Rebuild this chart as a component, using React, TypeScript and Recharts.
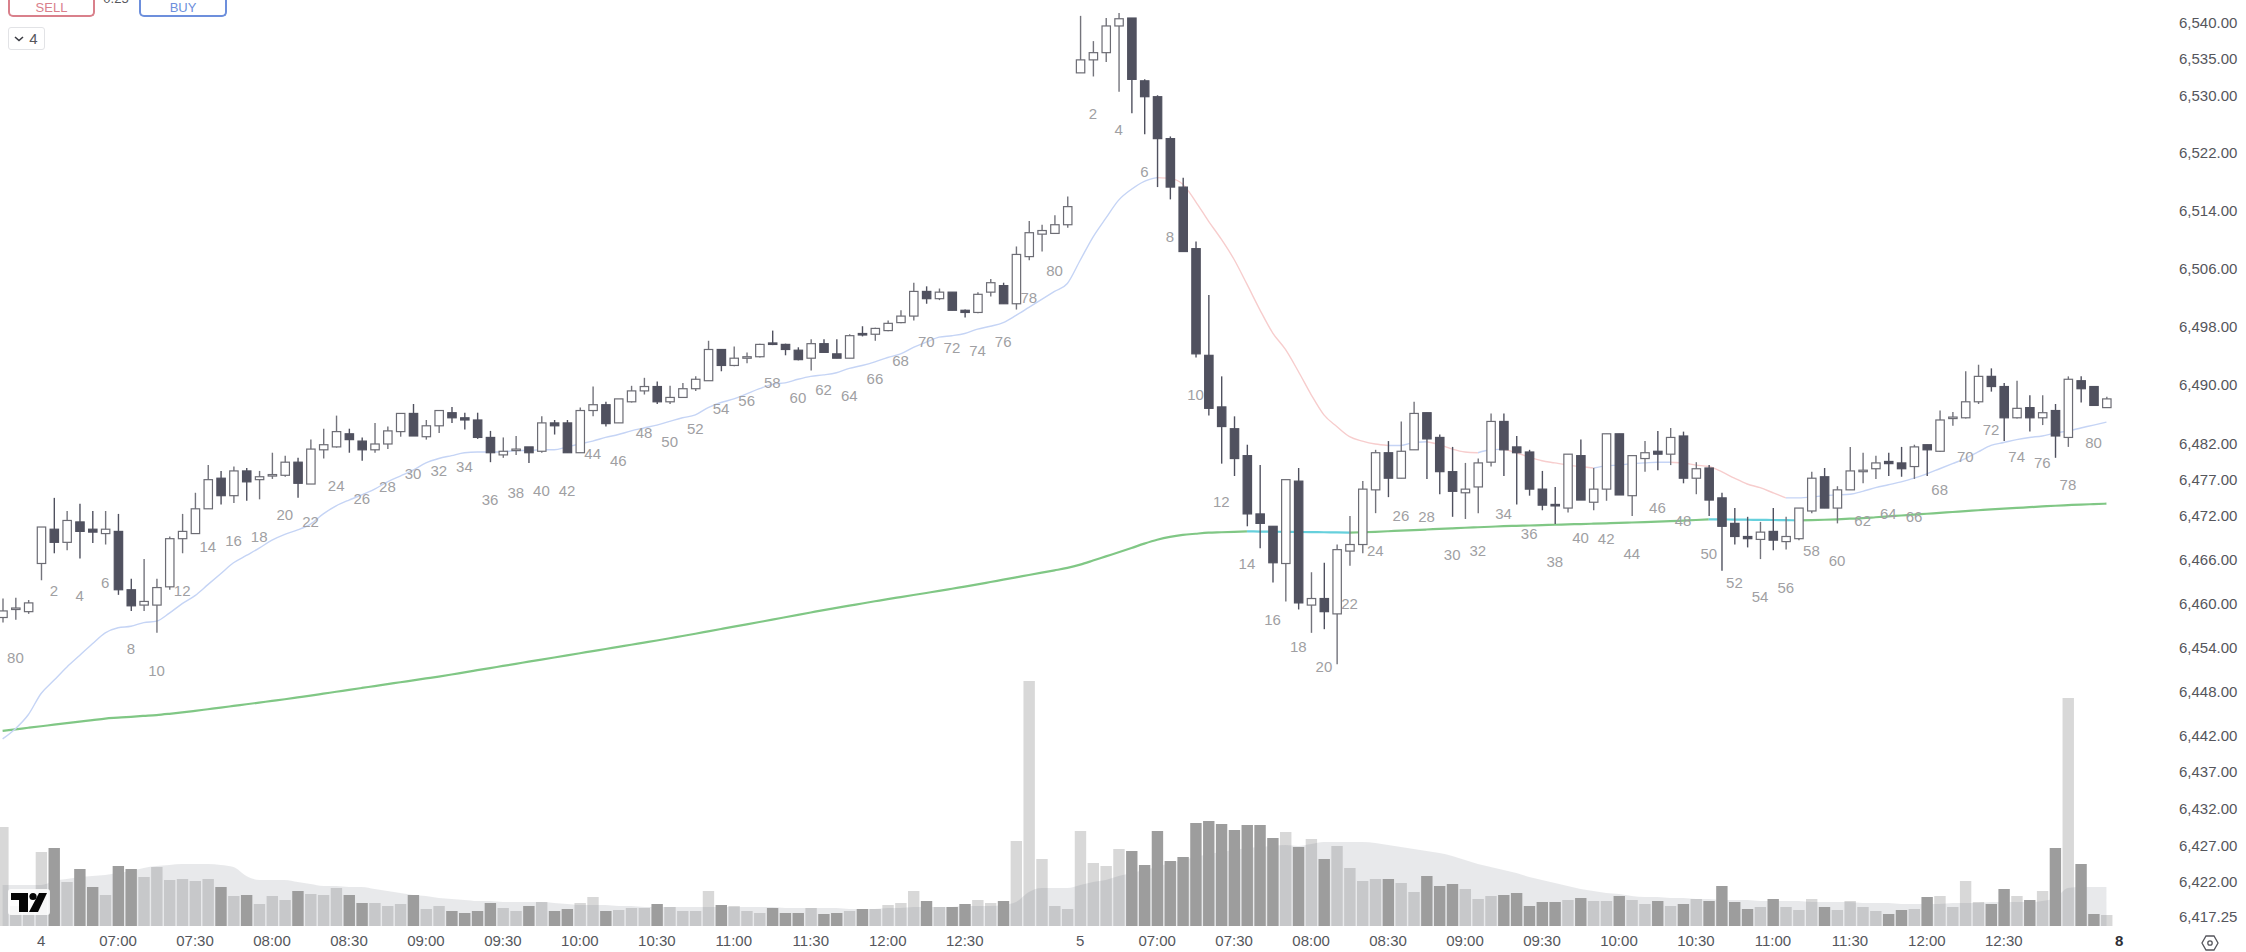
import { Area, Bar, ComposedChart, Line, XAxis, YAxis } from "recharts";

const FONT = '"Liberation Sans", Arial, sans-serif';

const COLORS = {
  candleDark: "#50515f",
  candleWick: "#74747c",
  candleEdge: "#6c6c74",
  volDown: "#9d9d9d",
  volUp: "#d8d8d8",
  volMa: "#787b86",
  emaUp: "#c5d4f5",
  emaDown: "#f7cdcd",
  maUp: "#80c785",
  maDown: "#66d0dc",
  label: "#9f9fa3",
  tick: "#55565c",
};

const opens = [
  6458.1,6459.2,6458.9,6465.5,6470.2,6468.4,6471.2,6470.2,6469.6,6469.9,
  6461.9,6459.8,6459.8,6462.3,6468.9,6469.6,6473.0,6477.2,6474.8,6478.2,
  6477.0,6477.5,6477.6,6479.4,6476.4,6481.1,6481.5,6483.3,6482.3,6481.1,
  6481.9,6483.6,6486.1,6482.9,6484.4,6486.2,6485.5,6485.2,6482.8,6480.4,
  6481.0,6481.5,6480.9,6484.8,6484.8,6480.7,6486.5,6487.3,6484.8,6487.7,
  6489.2,6489.8,6487.7,6488.3,6489.5,6490.6,6494.9,6492.7,6493.7,6493.9,
  6495.8,6495.6,6494.8,6493.7,6495.7,6494.3,6493.7,6497.1,6497.0,6497.5,
  6498.6,6499.5,6502.9,6501.9,6502.8,6500.3,6500.0,6502.8,6503.7,6501.2,
  6507.7,6510.8,6510.9,6512.1,6533.1,6534.9,6535.9,6539.6,6540.7,6532.0,
  6529.8,6524.0,6517.3,6508.8,6494.1,6487.0,6484.0,6480.3,6472.3,6470.6,
  6465.5,6476.8,6459.8,6460.7,6458.6,6467.2,6468.1,6475.6,6480.7,6477.2,
  6481.1,6486.2,6482.8,6478.1,6475.2,6476.0,6479.4,6485.0,6481.5,6480.8,
  6475.7,6473.6,6473.1,6480.3,6473.9,6475.7,6483.3,6474.8,6479.9,6480.9,
  6480.5,6483.0,6477.2,6478.6,6474.5,6471.0,6469.2,6468.8,6469.9,6468.5,
  6468.9,6472.7,6477.4,6473.1,6475.6,6478.1,6478.5,6479.5,6479.3,6478.8,
  6481.8,6480.9,6485.4,6485.5,6487.7,6491.2,6489.8,6485.5,6486.9,6485.5,
  6486.5,6482.8,6490.6,6489.8,6486.9,
];

const highs = [
  6460.7,6460.8,6460.5,6470.5,6474.5,6472.7,6473.7,6472.7,6472.7,6472.3,
  6463.4,6466.1,6463.4,6469.2,6472.3,6475.2,6479.0,6478.2,6478.8,6478.6,
  6478.2,6480.7,6480.3,6480.0,6482.5,6484.0,6485.8,6484.0,6482.8,6484.8,
  6484.3,6486.1,6487.4,6485.2,6486.5,6487.0,6486.2,6486.2,6483.7,6482.8,
  6483.0,6481.5,6485.7,6485.2,6485.2,6486.9,6489.8,6487.7,6488.1,6489.9,
  6491.0,6490.5,6489.9,6490.3,6491.2,6496.1,6494.9,6495.3,6494.5,6495.7,
  6497.5,6495.7,6495.2,6496.3,6496.3,6496.3,6497.0,6498.1,6497.9,6498.9,
  6500.3,6504.1,6503.6,6503.3,6502.8,6500.4,6502.8,6504.6,6504.1,6509.1,
  6512.6,6512.1,6513.4,6516.0,6541.0,6537.5,6540.7,6541.4,6540.7,6532.2,
  6530.0,6524.3,6518.6,6509.8,6502.4,6491.2,6485.7,6481.8,6479.0,6470.6,
  6477.0,6478.6,6464.3,6465.6,6468.1,6472.0,6476.8,6481.1,6482.3,6485.0,
  6487.7,6486.2,6483.2,6481.5,6479.3,6479.9,6486.1,6486.1,6483.0,6481.1,
  6478.2,6476.0,6480.5,6482.5,6478.6,6483.3,6483.3,6480.3,6482.3,6483.7,
  6484.1,6483.6,6479.4,6479.0,6475.2,6473.1,6471.9,6471.2,6473.1,6471.9,
  6473.1,6478.1,6478.6,6476.1,6481.5,6480.7,6480.3,6480.7,6481.5,6481.8,
  6481.8,6486.5,6486.3,6491.9,6492.8,6492.3,6490.3,6490.6,6488.6,6488.6,
  6487.4,6491.2,6491.2,6489.8,6488.4,
];

const lows = [
  6457.4,6457.8,6458.6,6463.2,6466.9,6467.3,6466.2,6468.3,6468.1,6461.2,
  6459.0,6459.0,6456.0,6461.9,6466.9,6469.6,6473.0,6473.6,6473.8,6474.1,
  6474.3,6477.1,6477.4,6474.5,6476.4,6479.9,6481.4,6480.7,6479.6,6480.7,
  6481.2,6482.9,6483.0,6482.5,6483.4,6484.8,6483.9,6482.6,6479.4,6480.0,
  6480.4,6479.3,6480.7,6483.2,6480.7,6480.7,6485.7,6484.3,6484.8,6487.6,
  6488.7,6487.4,6487.4,6488.3,6489.2,6490.6,6491.9,6492.6,6493.0,6493.8,
  6495.5,6494.1,6493.4,6492.0,6494.5,6493.7,6493.7,6496.7,6496.1,6497.4,
  6498.5,6498.9,6501.2,6501.7,6500.3,6499.3,6499.9,6502.2,6501.2,6500.4,
  6507.2,6508.4,6510.9,6511.7,6533.1,6532.6,6534.6,6530.5,6527.5,6524.6,
  6517.3,6515.6,6508.4,6493.8,6485.8,6479.2,6477.5,6470.6,6467.6,6462.9,
  6460.3,6459.2,6456.0,6456.5,6451.7,6465.2,6466.9,6472.4,6474.6,6477.2,
  6481.1,6477.1,6475.0,6471.9,6471.6,6472.4,6478.8,6477.5,6473.6,6474.8,
  6472.8,6470.9,6472.5,6474.2,6472.8,6474.1,6474.9,6472.0,6478.1,6478.3,
  6479.0,6476.5,6475.0,6472.0,6464.5,6468.1,6467.7,6466.1,6467.3,6467.4,
  6468.7,6472.4,6473.1,6471.0,6475.6,6476.5,6477.1,6477.5,6477.4,6477.1,
  6477.5,6480.8,6484.4,6485.4,6487.4,6489.1,6482.3,6485.4,6483.6,6484.5,
  6480.0,6481.5,6487.6,6487.2,6486.9,
];

const closes = [
  6459.0,6459.4,6460.1,6470.5,6468.4,6471.4,6469.9,6469.8,6470.2,6461.9,
  6459.7,6460.3,6462.2,6468.9,6469.9,6473.0,6477.0,6474.8,6478.2,6476.7,
  6477.4,6477.7,6479.4,6476.5,6481.2,6481.8,6483.6,6482.5,6481.1,6481.9,
  6483.7,6486.1,6483.0,6484.4,6486.5,6485.5,6485.2,6482.8,6480.7,6480.9,
  6481.2,6480.7,6484.8,6484.4,6480.7,6486.5,6487.3,6484.7,6488.1,6489.2,
  6489.8,6487.7,6488.3,6489.5,6490.8,6494.9,6492.7,6493.7,6493.9,6495.6,
  6495.6,6494.9,6493.5,6495.7,6494.5,6493.7,6496.8,6496.9,6497.8,6498.5,
  6499.5,6502.9,6501.9,6502.8,6500.3,6500.0,6502.5,6504.1,6501.2,6508.0,
  6511.0,6511.3,6512.1,6514.6,6534.9,6535.9,6539.6,6540.6,6532.2,6529.8,
  6524.0,6517.3,6508.4,6494.3,6486.8,6484.3,6479.9,6472.3,6471.0,6465.6,
  6477.0,6460.1,6460.7,6458.9,6467.4,6468.1,6475.7,6480.7,6477.2,6480.9,
  6486.1,6482.6,6478.1,6475.4,6475.7,6479.3,6485.0,6481.1,6480.7,6475.7,
  6473.5,6473.4,6480.5,6474.2,6475.7,6483.3,6474.9,6480.3,6480.7,6480.5,
  6482.8,6477.2,6478.5,6474.2,6470.6,6469.2,6468.9,6469.8,6468.7,6469.2,
  6473.1,6477.2,6473.1,6475.6,6478.2,6478.3,6479.3,6479.2,6478.5,6481.5,
  6481.1,6485.2,6485.6,6487.7,6491.2,6489.8,6485.5,6486.8,6485.5,6486.2,
  6483.0,6490.8,6489.5,6487.2,6488.1,
];

// relative volume, same scale as the hidden volume axis
const volumes = [
  99,20,14,74,78,44,57,39,31,60,
  57,49,59,46,47,45,47,39,30,31,
  22,30,26,35,32,31,38,31,23,23,
  20,22,31,17,20,15,13,15,23,18,
  15,20,24,15,17,23,29,15,16,18,
  18,22,19,15,15,35,21,20,15,13,
  18,13,13,18,12,13,15,17,17,21,
  23,35,25,19,19,22,26,23,25,85,
  245,67,20,17,95,63,60,77,75,61,
  95,65,69,103,105,102,96,101,101,88,
  94,79,87,67,80,58,45,47,47,43,
  34,50,40,42,37,27,30,31,33,20,
  24,24,26,28,25,25,30,26,22,25,
  20,22,27,25,40,24,17,19,27,19,
  16,27,19,16,25,19,15,12,16,17,
  29,30,19,45,24,22,37,30,26,35,
  78,228,62,12,11,
];

const volumeMa = [
  41,41,41,41,45,47,49,50,51,53,
  55,58,60,61,62,62,62,61,59,50,
  46,46,46,44,42,40,40,39,39,37,
  35,33,31,30,28,27,26,25,25,24,
  24,24,24,23,22,21,21,21,20,20,
  19,19,19,19,19,19,19,19,19,19,
  19,18,18,18,18,18,17,17,17,18,
  18,19,19,19,19,20,20,20,21,24,
  34,38,38,38,41,44,46,50,53,56,
  59,63,66,69,72,74,76,78,79,80,
  81,80,82,84,84,84,84,83,81,79,
  77,75,73,70,66,62,59,56,53,49,
  46,43,40,37,35,33,32,30,29,29,
  28,28,27,27,26,26,26,25,25,25,
  25,24,24,24,24,23,23,23,22,22,
  22,22,23,23,23,24,24,24,24,25,
  28,38,39,39,39,
];

const fastMa = [
  6441.5,6442.9,6444.8,6447.7,6449.5,6451.3,6452.9,6454.5,6456.0,6456.7,
  6456.9,6457.4,6457.6,6458.7,6460.0,6461.1,6462.6,6464.1,6465.6,6466.6,
  6467.6,6468.7,6469.5,6470.1,6470.9,6472.3,6473.4,6474.2,6474.9,6475.7,
  6476.7,6477.5,6478.3,6479.3,6479.9,6480.3,6480.7,6480.8,6480.8,6480.8,
  6481.0,6481.0,6481.1,6481.1,6481.5,6481.9,6482.3,6482.8,6483.2,6483.7,
  6484.1,6484.5,6485.0,6485.5,6485.9,6486.9,6487.6,6488.1,6488.8,6489.5,
  6490.1,6490.3,6490.8,6491.2,6491.4,6491.7,6492.3,6492.7,6493.2,6493.8,
  6494.3,6495.2,6495.9,6496.6,6496.8,6497.1,6497.7,6498.1,6498.6,6499.6,
  6500.7,6501.8,6502.9,6504.0,6507.2,6510.4,6513.0,6515.5,6517.0,6518.1,
  6518.6,6518.5,6517.7,6515.3,6512.6,6510.1,6507.3,6503.9,6500.4,6497.2,
  6494.9,6491.9,6488.7,6485.9,6484.3,6482.9,6482.3,6481.9,6481.7,6481.7,
  6482.1,6482.2,6481.8,6481.2,6480.8,6480.7,6481.1,6481.2,6480.7,6480.1,
  6479.6,6479.3,6479.0,6478.8,6478.6,6478.9,6479.0,6479.2,6479.3,6479.4,
  6479.4,6479.3,6479.0,6478.8,6478.1,6477.2,6476.4,6475.9,6475.2,6474.5,
  6474.5,6474.6,6474.8,6474.9,6475.0,6475.4,6475.9,6476.3,6476.7,6477.2,
  6477.8,6478.5,6479.2,6479.9,6480.8,6481.7,6482.1,6482.5,6482.8,6483.0,
  6483.4,6483.7,6484.1,6484.5,6484.9,
];

const slowMa = [
  6442.60,6442.81,6443.02,6443.23,6443.44,6443.65,6443.86,6444.07,6444.28,6444.40,
  6444.52,6444.64,6444.76,6444.93,6445.12,6445.33,6445.55,6445.77,6446.00,6446.23,
  6446.46,6446.69,6446.92,6447.17,6447.42,6447.68,6447.94,6448.20,6448.46,6448.72,
  6448.98,6449.24,6449.50,6449.76,6450.02,6450.30,6450.60,6450.89,6451.18,6451.47,
  6451.76,6452.05,6452.34,6452.63,6452.92,6453.21,6453.50,6453.79,6454.08,6454.37,
  6454.66,6454.95,6455.26,6455.57,6455.88,6456.20,6456.52,6456.84,6457.16,6457.48,
  6457.80,6458.13,6458.46,6458.79,6459.12,6459.42,6459.72,6460.02,6460.32,6460.62,
  6460.90,6461.18,6461.46,6461.74,6462.04,6462.34,6462.64,6462.96,6463.28,6463.60,
  6463.92,6464.24,6464.56,6464.90,6465.35,6465.90,6466.47,6467.03,6467.62,6468.22,
  6468.75,6469.15,6469.42,6469.58,6469.72,6469.78,6469.84,6469.90,6469.88,6469.86,
  6469.84,6469.82,6469.80,6469.78,6469.76,6469.74,6469.78,6469.84,6469.92,6470.00,
  6470.08,6470.16,6470.24,6470.32,6470.40,6470.47,6470.54,6470.61,6470.66,6470.71,
  6470.76,6470.81,6470.86,6470.91,6470.96,6471.01,6471.06,6471.12,6471.18,6471.24,
  6471.30,6471.38,6471.46,6471.56,6471.54,6471.52,6471.50,6471.48,6471.46,6471.44,
  6471.42,6471.45,6471.50,6471.56,6471.64,6471.72,6471.84,6471.96,6472.08,6472.20,
  6472.32,6472.44,6472.56,6472.68,6472.80,6472.92,6473.02,6473.12,6473.22,6473.32,
  6473.42,6473.50,6473.58,6473.64,6473.70,
];

const priceTicks = [
  6540, 6535, 6530, 6522, 6514, 6506, 6498, 6490, 6482, 6477, 6472,
  6466, 6460, 6454, 6448, 6442, 6437, 6432, 6427, 6422, 6417.25,
];

const timeTickBars = [
  3, 9, 15, 21, 27, 33, 39, 45, 51, 57, 63, 69, 75,
  84, 90, 96, 102, 108, 114, 120, 126, 132, 138, 144, 150, 156, 165,
];
const timeTickLabels = [
  "4", "07:00", "07:30", "08:00", "08:30", "09:00", "09:30", "10:00", "10:30", "11:00", "11:30", "12:00", "12:30",
  "5", "07:00", "07:30", "08:00", "08:30", "09:00", "09:30", "10:00", "10:30", "11:00", "11:30", "12:00", "12:30", "8",
];

const EXTRA_BARS = 5;
const sessionFirstBars = [-78, 3, 84];

function sessionBarNo(i: number) {
  const start = i >= sessionFirstBars[2] ? sessionFirstBars[2] : i >= sessionFirstBars[1] ? sessionFirstBars[1] : sessionFirstBars[0];
  return i - start + 1;
}

// colour of the two averages follows their slope
function slopeSplit(values: number[]) {
  const rising = values.map((v, i) => (i === 0 ? values[1] >= v : v >= values[i - 1]));
  const up = values.map((v, i) => (rising[i] || rising[i + 1] ? v : null));
  const down = values.map((v, i) => (!rising[i] || rising[i + 1] === false ? v : null));
  return { up, down };
}

const fast = slopeSplit(fastMa);
const slow = slopeSplit(slowMa);

const rows = [...opens, ...new Array(EXTRA_BARS).fill(null)].map((_, i) => {
  if (i >= opens.length) return { idx: i };
  const isDown = closes[i] < opens[i];
  return {
    idx: i,
    open: opens[i],
    high: highs[i],
    low: lows[i],
    close: closes[i],
    barNo: sessionBarNo(i),
    volUp: isDown ? 0 : volumes[i],
    volDown: isDown ? volumes[i] : 0,
    volMa: volumeMa[i],
    fastUp: fast.up[i],
    fastDown: fast.down[i],
    slowUp: slow.up[i],
    slowDown: slow.down[i],
  };
});

function Candle(props: any) {
  const { x, y, width, height, payload } = props;
  if (payload.high == null) return null;
  const perPoint = height / (payload.high - payload.low);
  const bodyTop = y + (payload.high - Math.max(payload.open, payload.close)) * perPoint;
  const bodyBottom = y + (payload.high - Math.min(payload.open, payload.close)) * perPoint;
  const isDown = payload.close < payload.open;
  const mid = x + width / 2;
  const bodyH = Math.max(bodyBottom - bodyTop, 1.5);
  return (
    <g>
      <line x1={mid} x2={mid} y1={y} y2={y + height} stroke={isDown ? COLORS.candleDark : COLORS.candleWick} strokeWidth={1.4} />
      <rect
        x={x + 0.6}
        y={bodyTop}
        width={width - 1.2}
        height={bodyH}
        fill={isDown ? COLORS.candleDark : "#ffffff"}
        stroke={isDown ? COLORS.candleDark : COLORS.candleEdge}
        strokeWidth={1.2}
      />
    </g>
  );
}

function BarNoLabel(props: any) {
  const { x, y, index } = props;
  const row: any = rows[index];
  if (!row || row.barNo == null || row.barNo % 2 !== 0 || y == null) return null;
  return (
    <text x={x} y={y + 38} dy={5} textAnchor="middle" fontSize={15} fontFamily={FONT} fill={COLORS.label}>
      {row.barNo}
    </text>
  );
}

function TimeTick(props: any) {
  const { x, y, payload } = props;
  const label = timeTickLabels[timeTickBars.indexOf(payload.value)];
  return (
    <text x={x} y={y + 12} textAnchor="middle" fontSize={15} fontFamily={FONT} fill={label === "8" ? "#2f3036" : COLORS.tick} fontWeight={label === "8" ? 700 : 400}>
      {label}
    </text>
  );
}

function Overlay() {
  const box: any = { position: "absolute", boxSizing: "border-box", fontFamily: FONT, textAlign: "center" };
  return (
    <>
      <div style={{ ...box, left: 8, top: 0, width: 87, height: 17, border: "2px solid #d9808b", borderTop: "none", borderRadius: "0 0 5px 5px", color: "#d9808b", fontSize: 13, lineHeight: "15px", background: "#fff" }}>SELL</div>
      <div style={{ ...box, left: 103, top: -10, width: 26, height: 17, color: "#55565c", fontSize: 13, lineHeight: "17px" }}>0.25</div>
      <div style={{ ...box, left: 139, top: 0, width: 88, height: 17, border: "2px solid #6d8fdc", borderTop: "none", borderRadius: "0 0 5px 5px", color: "#6d8fdc", fontSize: 13, lineHeight: "15px", background: "#fff" }}>BUY</div>
      <div style={{ ...box, left: 8, top: 27, width: 37, height: 23, border: "1px solid #e2e3e6", borderRadius: 3, color: "#55565c", fontSize: 15, lineHeight: "21px", background: "#fff", paddingLeft: 14 }}>4</div>
      <svg style={{ position: "absolute", left: 13, top: 35, width: 12, height: 8 }} viewBox="0 0 12 8">
        <path d="M2 2 L6 5.5 L10 2" fill="none" stroke="#3a3b42" strokeWidth={1.6} />
      </svg>
      <svg style={{ position: "absolute", left: 8, top: 889, width: 42, height: 26 }} viewBox="0 0 42 26">
        <rect width={42} height={26} rx={3} fill="#ffffff" fillOpacity={0.85} />
        <path d="M3 4 H20 V23 H11 V11 H3 Z" fill="#050505" />
        <circle cx={25} cy={7.5} r={3.6} fill="#050505" />
        <path d="M31 4 H39 L30 23 H21 Z" fill="#050505" />
      </svg>
      <svg style={{ position: "absolute", left: 2201, top: 934, width: 18, height: 18 }} viewBox="0 0 18 18">
        <path d="M5 2 H13 L17 9 L13 16 H5 L1 9 Z" fill="none" stroke="#55565c" strokeWidth={1.3} />
        <circle cx={9} cy={9} r={2.2} fill="none" stroke="#55565c" strokeWidth={1.3} />
      </svg>
    </>
  );
}

export default function App() {
  return (
    <div style={{ position: "absolute", left: 0, top: 0, width: 2246, height: 952, overflow: "hidden", background: "#ffffff" }}>
      <ComposedChart width={2246} height={952} data={rows} margin={{ top: 0, right: 0, bottom: 0, left: -3.8 }}>
        <XAxis
          xAxisId="price"
          dataKey="idx"
          type="category"
          ticks={timeTickBars}
          interval={0}
          height={26}
          tickLine={false}
          axisLine={false}
          tick={<TimeTick />}
        />
        <XAxis xAxisId="vol" dataKey="idx" type="category" hide />
        <YAxis
          yAxisId="price"
          orientation="right"
          type="number"
          scale="log"
          domain={[6416.0, 6543.2]}
          allowDataOverflow
          ticks={priceTicks}
          interval={0}
          width={69}
          tickLine={false}
          axisLine={false}
          tickSize={0}
          tickMargin={2}
          tickFormatter={(v: number) => v.toLocaleString("en-US", { minimumFractionDigits: 2, maximumFractionDigits: 2 })}
          tick={{ fontSize: 15, fontFamily: FONT, fill: COLORS.tick, textAnchor: "start" }}
        />
        <YAxis yAxisId="vol" hide type="number" domain={[0, 926]} />

        <Bar xAxisId="vol" yAxisId="vol" dataKey="volUp" stackId="vol" barSize={11.4} fill={COLORS.volUp} isAnimationActive={false} zIndex={90} />
        <Area xAxisId="vol" yAxisId="vol" dataKey="volMa" type="monotone" stroke="none" fill={COLORS.volMa} fillOpacity={0.17} dot={false} activeDot={false} isAnimationActive={false} zIndex={100} />
        <Bar xAxisId="vol" yAxisId="vol" dataKey="volDown" stackId="vol" barSize={11.4} fill={COLORS.volDown} isAnimationActive={false} zIndex={110} />

        <Line xAxisId="price" yAxisId="price" dataKey="slowUp" type="monotone" stroke={COLORS.maUp} strokeWidth={2.2} dot={false} activeDot={false} isAnimationActive={false} zIndex={200} />
        <Line xAxisId="price" yAxisId="price" dataKey="slowDown" type="monotone" stroke={COLORS.maDown} strokeWidth={2.2} dot={false} activeDot={false} isAnimationActive={false} zIndex={200} />
        <Line xAxisId="price" yAxisId="price" dataKey="fastUp" type="monotone" stroke={COLORS.emaUp} strokeWidth={1.4} dot={false} activeDot={false} isAnimationActive={false} zIndex={200} />
        <Line xAxisId="price" yAxisId="price" dataKey="fastDown" type="monotone" stroke={COLORS.emaDown} strokeWidth={1.4} dot={false} activeDot={false} isAnimationActive={false} zIndex={200} />

        <Bar
          xAxisId="price"
          yAxisId="price"
          dataKey={(d: any) => (d.high == null ? null : [d.low, d.high])}
          barSize={9.6}
          shape={<Candle />}
          isAnimationActive={false}
          zIndex={300}
        />
        <Line xAxisId="price" yAxisId="price" dataKey="low" stroke="none" dot={false} activeDot={false} label={<BarNoLabel />} isAnimationActive={false} zIndex={400} />
      </ComposedChart>
      <Overlay />
    </div>
  );
}
